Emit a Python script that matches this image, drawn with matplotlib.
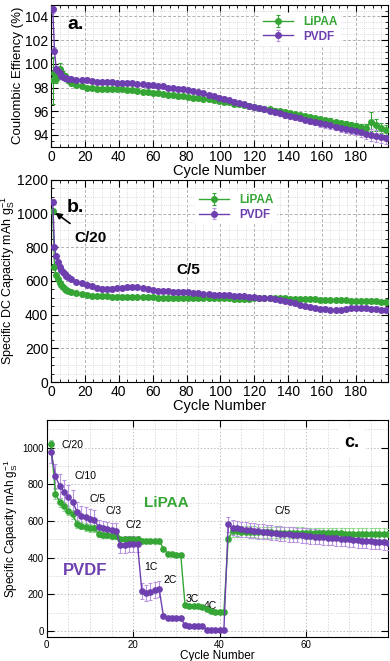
import numpy as np
import matplotlib
matplotlib.use("Agg")
import matplotlib.pyplot as plt
from matplotlib.ticker import MultipleLocator

plt.rcParams["font.family"] = ["Liberation Sans", "DejaVu Sans"]
plt.rcParams["mathtext.fontset"] = "custom"
plt.rcParams["mathtext.rm"] = "Liberation Sans"
plt.rcParams["mathtext.it"] = "Liberation Sans"

GREEN = "#35a535"
PURPLE = "#6e3fae"
LGREEN = "#8fd68f"
LPURPLE = "#b894e0"

# ---- panels a and b: long cycling ----
cyc_ab = list(range(1, 11)) + list(range(12, 199, 3))

ce_lipaa = [98.6, 99.2, 98.7, 99.3, 99.6, 99.3, 99.1, 99.0, 98.8, 98.6,
            98.4, 98.2, 98.1, 98.0, 97.95, 97.9, 97.9, 97.9, 97.9, 97.85,
            97.85, 97.8, 97.75, 97.7, 97.65, 97.6, 97.55, 97.5, 97.45, 97.4,
            97.35, 97.3, 97.25, 97.2, 97.15, 97.1, 97.05, 97.0, 96.95, 96.9,
            96.8, 96.75, 96.65, 96.6, 96.5, 96.45, 96.35, 96.3, 96.2, 96.15,
            96.05, 96.0, 95.9, 95.85, 95.75, 95.65, 95.6, 95.5, 95.4, 95.35,
            95.25, 95.2, 95.1, 95.0, 94.95, 94.85, 94.75, 94.7, 94.6, 95.1,
            94.85, 94.6, 94.4]
ce_lipaa_err = [2.0, 0.5, 0.3, 0.4, 0.5, 0.3, 0.3, 0.2, 0.2, 0.2,
                0.15, 0.15, 0.15, 0.15, 0.15, 0.15, 0.15, 0.15, 0.15, 0.15,
                0.15, 0.15, 0.15, 0.15, 0.15, 0.15, 0.15, 0.15, 0.15, 0.15,
                0.15, 0.15, 0.15, 0.15, 0.15, 0.15, 0.15, 0.15, 0.15, 0.15,
                0.15, 0.15, 0.15, 0.15, 0.15, 0.15, 0.15, 0.15, 0.15, 0.15,
                0.2, 0.2, 0.2, 0.2, 0.2, 0.2, 0.2, 0.2, 0.2, 0.2,
                0.2, 0.2, 0.2, 0.2, 0.2, 0.2, 0.25, 0.25, 0.3, 0.8,
                0.5, 0.4, 0.4]
ce_pvdf = [104.6, 101.1, 99.6, 99.4, 99.2, 99.0, 98.9, 98.8, 98.8, 98.7,
           98.7, 98.65, 98.6, 98.6, 98.55, 98.5, 98.5, 98.45, 98.45, 98.4,
           98.4, 98.35, 98.35, 98.3, 98.3, 98.25, 98.2, 98.15, 98.1, 98.0,
           97.95, 97.9, 97.85, 97.8, 97.7, 97.6, 97.5, 97.4, 97.25, 97.15,
           97.05, 96.95, 96.8, 96.7, 96.6, 96.45, 96.35, 96.25, 96.15, 96.05,
           95.95, 95.85, 95.7, 95.6, 95.5, 95.4, 95.3, 95.2, 95.1, 95.0,
           94.9, 94.8, 94.7, 94.6, 94.5, 94.45, 94.35, 94.25, 94.1, 94.0,
           93.9, 93.85, 93.75]
ce_pvdf_err = [0.3, 0.3, 0.2, 0.2, 0.2, 0.15, 0.15, 0.15, 0.15, 0.15,
               0.15, 0.15, 0.15, 0.15, 0.15, 0.15, 0.15, 0.15, 0.15, 0.15,
               0.15, 0.15, 0.15, 0.15, 0.15, 0.15, 0.15, 0.15, 0.15, 0.15,
               0.15, 0.15, 0.15, 0.15, 0.15, 0.15, 0.15, 0.15, 0.2, 0.2,
               0.2, 0.2, 0.2, 0.2, 0.2, 0.2, 0.2, 0.2, 0.2, 0.2,
               0.25, 0.25, 0.25, 0.25, 0.25, 0.25, 0.25, 0.3, 0.3, 0.3,
               0.3, 0.3, 0.3, 0.35, 0.35, 0.35, 0.4, 0.4, 0.45, 0.5,
               0.5, 0.5, 0.5]

cap_lipaa = [1015, 680, 638, 610, 590, 575, 563, 553, 545, 540,
             533, 526, 520, 516, 513, 511, 510, 508, 507, 506,
             505, 504, 504, 503, 503, 502, 502, 501, 501, 500,
             500, 499, 499, 498, 498, 497, 497, 497, 496, 496,
             496, 496, 495, 495, 495, 495, 496, 496, 497, 497,
             497, 496, 496, 495, 494, 493, 492, 491, 490, 489,
             488, 487, 486, 485, 484, 483, 482, 481, 480, 479,
             478, 476, 474]
cap_pvdf = [1070, 800, 745, 710, 685, 665, 650, 640, 630, 622,
            610, 595, 585, 575, 568, 560, 555, 553, 555, 557,
            560, 562, 563, 562, 558, 552, 545, 542, 540, 538,
            537, 536, 535, 533, 530, 527, 524, 521, 519, 518,
            516, 514, 512, 510, 508, 506, 503, 500, 498, 496,
            493, 488, 482, 475, 468, 460, 453, 446, 440, 435,
            432, 428, 425, 428, 432, 437, 440, 440, 438, 435,
            432, 428, 425]
cap_err_lipaa = [10] * 10 + [6] * 63
cap_err_pvdf = [15] * 10 + [12] * 63

# ---- panel c: rate capability ----
cyc_c = list(range(1, 80))
rate_lipaa = [1020,
              748, 703, 680, 656, 637,
              585, 575, 568, 563, 560,
              530, 525, 522, 520, 520,
              505, 505, 503, 502, 500,
              493, 492, 492, 493, 493,
              450, 422, 420, 418, 418,
              143, 135, 135, 136, 134,
              120, 108, 105, 105, 106,
              505,
              545, 545, 543, 542, 542, 541, 540, 540, 539, 539,
              538, 538, 537, 537, 536, 536, 536, 535, 535, 535,
              534, 534, 534, 533, 533, 533, 532, 532, 532, 531,
              531, 531, 530, 530, 530, 530, 529]
rate_lipaa_err = [25] + [25] * 5 + [20] * 5 + [15] * 5 + [10] * 5 + [8] * 5 + \
                 [8] * 5 + [8] * 5 + [8] * 5 + [15] + [30] * 37
rate_pvdf = [975,
             845, 790, 760, 730, 705,
             650, 630, 620, 612, 608,
             568, 560, 556, 552, 548,
             470, 472, 475, 476, 474,
             220, 207, 215, 225, 230,
             83, 72, 70, 70, 70,
             33, 30, 30, 30, 30,
             8, 6, 6, 6, 8,
             582,
             565, 560, 556, 553, 550, 548, 545, 542, 540, 537,
             535, 532, 530, 528, 526, 524, 522, 520, 518, 516,
             514, 512, 510, 508, 506, 504, 502, 500, 498, 496,
             494, 492, 490, 488, 486, 484, 482]
rate_pvdf_err = [60] + [65] * 5 + [55] * 5 + [40] * 5 + [45] * 5 + [45] * 5 + \
                [8] * 5 + [5] * 5 + [5] * 5 + [40] + [40] * 37


def style_axes(ax, xmaj, xmin, ymaj, ymin, size):
    ax.xaxis.set_major_locator(MultipleLocator(xmaj))
    ax.xaxis.set_minor_locator(MultipleLocator(xmin))
    ax.yaxis.set_major_locator(MultipleLocator(ymaj))
    ax.yaxis.set_minor_locator(MultipleLocator(ymin))
    ax.tick_params(which="both", direction="in", top=True, right=True,
                   labelsize=size, pad=2)
    ax.tick_params(which="major", length=5, width=0.8)
    ax.tick_params(which="minor", length=2.5, width=0.6)
    ax.grid(which="major", color="#b0b0b0", linestyle=(0, (3, 2)), linewidth=0.7)
    ax.grid(which="minor", color="#d4d4d4", linestyle=(0, (1, 1.5)), linewidth=0.6)
    ax.set_axisbelow(True)


def series(ax, x, y, err, color, ecolor, label, ms=4):
    ax.errorbar(x, y, yerr=err, color=color, ecolor=ecolor, marker="o",
                markersize=ms, linewidth=1.0, elinewidth=0.8, capsize=1.5,
                capthick=0.8, label=label, zorder=3)


def color_legend(ax, anchor):
    leg = ax.legend(loc="upper left", bbox_to_anchor=anchor, fontsize=8.5,
                    frameon=True, fancybox=False, edgecolor="none",
                    framealpha=1, handlelength=2.6, borderpad=0.3,
                    labelspacing=0.2)
    for t, c in zip(leg.get_texts(), [GREEN, PURPLE]):
        t.set_color(c)
        t.set_fontweight("bold")


fig = plt.figure(figsize=(3.9, 6.61), dpi=100)

# panel a
ax1 = fig.add_axes([0.131, 0.778, 0.864, 0.215])
style_axes(ax1, 20, 5, 2, 0.5, 10)
series(ax1, cyc_ab, ce_lipaa, ce_lipaa_err, GREEN, GREEN, "LiPAA")
series(ax1, cyc_ab, ce_pvdf, ce_pvdf_err, PURPLE, LPURPLE, "PVDF")
ax1.set_xlim(0, 199)
ax1.set_ylim(93, 105)
ax1.set_xlabel("Cycle Number", fontsize=10.5, labelpad=0)
ax1.set_ylabel("Coulombic Effiency (%)", fontsize=9.5, labelpad=1)
ax1.text(9.5, 102.9, "a.", fontsize=14, fontweight="bold")
color_legend(ax1, (0.6, 0.985))

# panel b
ax2 = fig.add_axes([0.131, 0.422, 0.864, 0.306])
style_axes(ax2, 20, 5, 200, 50, 10)
series(ax2, cyc_ab, cap_lipaa, cap_err_lipaa, GREEN, GREEN, "LiPAA")
series(ax2, cyc_ab, cap_pvdf, cap_err_pvdf, PURPLE, LPURPLE, "PVDF")
ax2.set_xlim(0, 199)
ax2.set_ylim(0, 1200)
ax2.set_xlabel("Cycle Number", fontsize=10.5, labelpad=0)
ax2.set_ylabel(r"Specific DC Capacity mAh g$_\mathregular{S}^\mathregular{-1}$",
               fontsize=9, labelpad=0)
ax2.text(9.5, 1010, "b.", fontsize=14, fontweight="bold")
ax2.annotate("C/20", xy=(2.5, 1005), xytext=(13.5, 830), fontsize=11,
             fontweight="bold",
             arrowprops=dict(arrowstyle="-|>", color="black", lw=1.2,
                             shrinkA=6, shrinkB=0, mutation_scale=9))
ax2.text(74, 640, "C/5", fontsize=11, fontweight="bold")
color_legend(ax2, (0.41, 0.975))

# panel c
ax3 = fig.add_axes([0.12, 0.036, 0.875, 0.329])
style_axes(ax3, 20, 5, 200, 100, 7)
ax3.tick_params(which="minor", length=0)
ax3.grid(which="major", color="#bdbdbd", linestyle=(0, (1.5, 2)), linewidth=0.7)
ax3.grid(which="minor", color="#d0d0d0", linestyle=(0, (1.5, 2)), linewidth=0.6)
series(ax3, cyc_c, rate_lipaa, rate_lipaa_err, GREEN, LGREEN, "LiPAA", ms=3.8)
series(ax3, cyc_c, rate_pvdf, rate_pvdf_err, PURPLE, LPURPLE, "PVDF", ms=3.8)
ax3.set_xlim(0, 79)
ax3.set_ylim(-33, 1153)
ax3.set_xlabel("Cycle Number", fontsize=8.5, labelpad=0)
ax3.set_ylabel(r"Specific Capacity mAh g$_\mathregular{S}^\mathregular{-1}$",
               fontsize=8.5, labelpad=2)
rate_labels = [("C/20", 3.4, 1000), ("C/10", 6.5, 830), ("C/5", 9.8, 705),
               ("C/3", 13.6, 638), ("C/2", 18.3, 562), ("1C", 22.5, 335),
               ("2C", 27.0, 262), ("3C", 32.2, 157), ("4C", 36.4, 121),
               ("C/5", 52.8, 640)]
for txt, x, y in rate_labels:
    ax3.text(x, y, txt, fontsize=7.5)
ax3.text(27.6, 700, "LiPAA", fontsize=11, fontweight="bold", color=GREEN,
         ha="center", va="center")
ax3.text(8.8, 333, "PVDF", fontsize=12, fontweight="bold", color=PURPLE,
         ha="center", va="center")
ax3.text(70.7, 1027, "c.", fontsize=13, fontweight="bold", ha="center",
         va="center", bbox=dict(facecolor="white", edgecolor="none", pad=4))

fig.savefig("out.png", dpi=100)
